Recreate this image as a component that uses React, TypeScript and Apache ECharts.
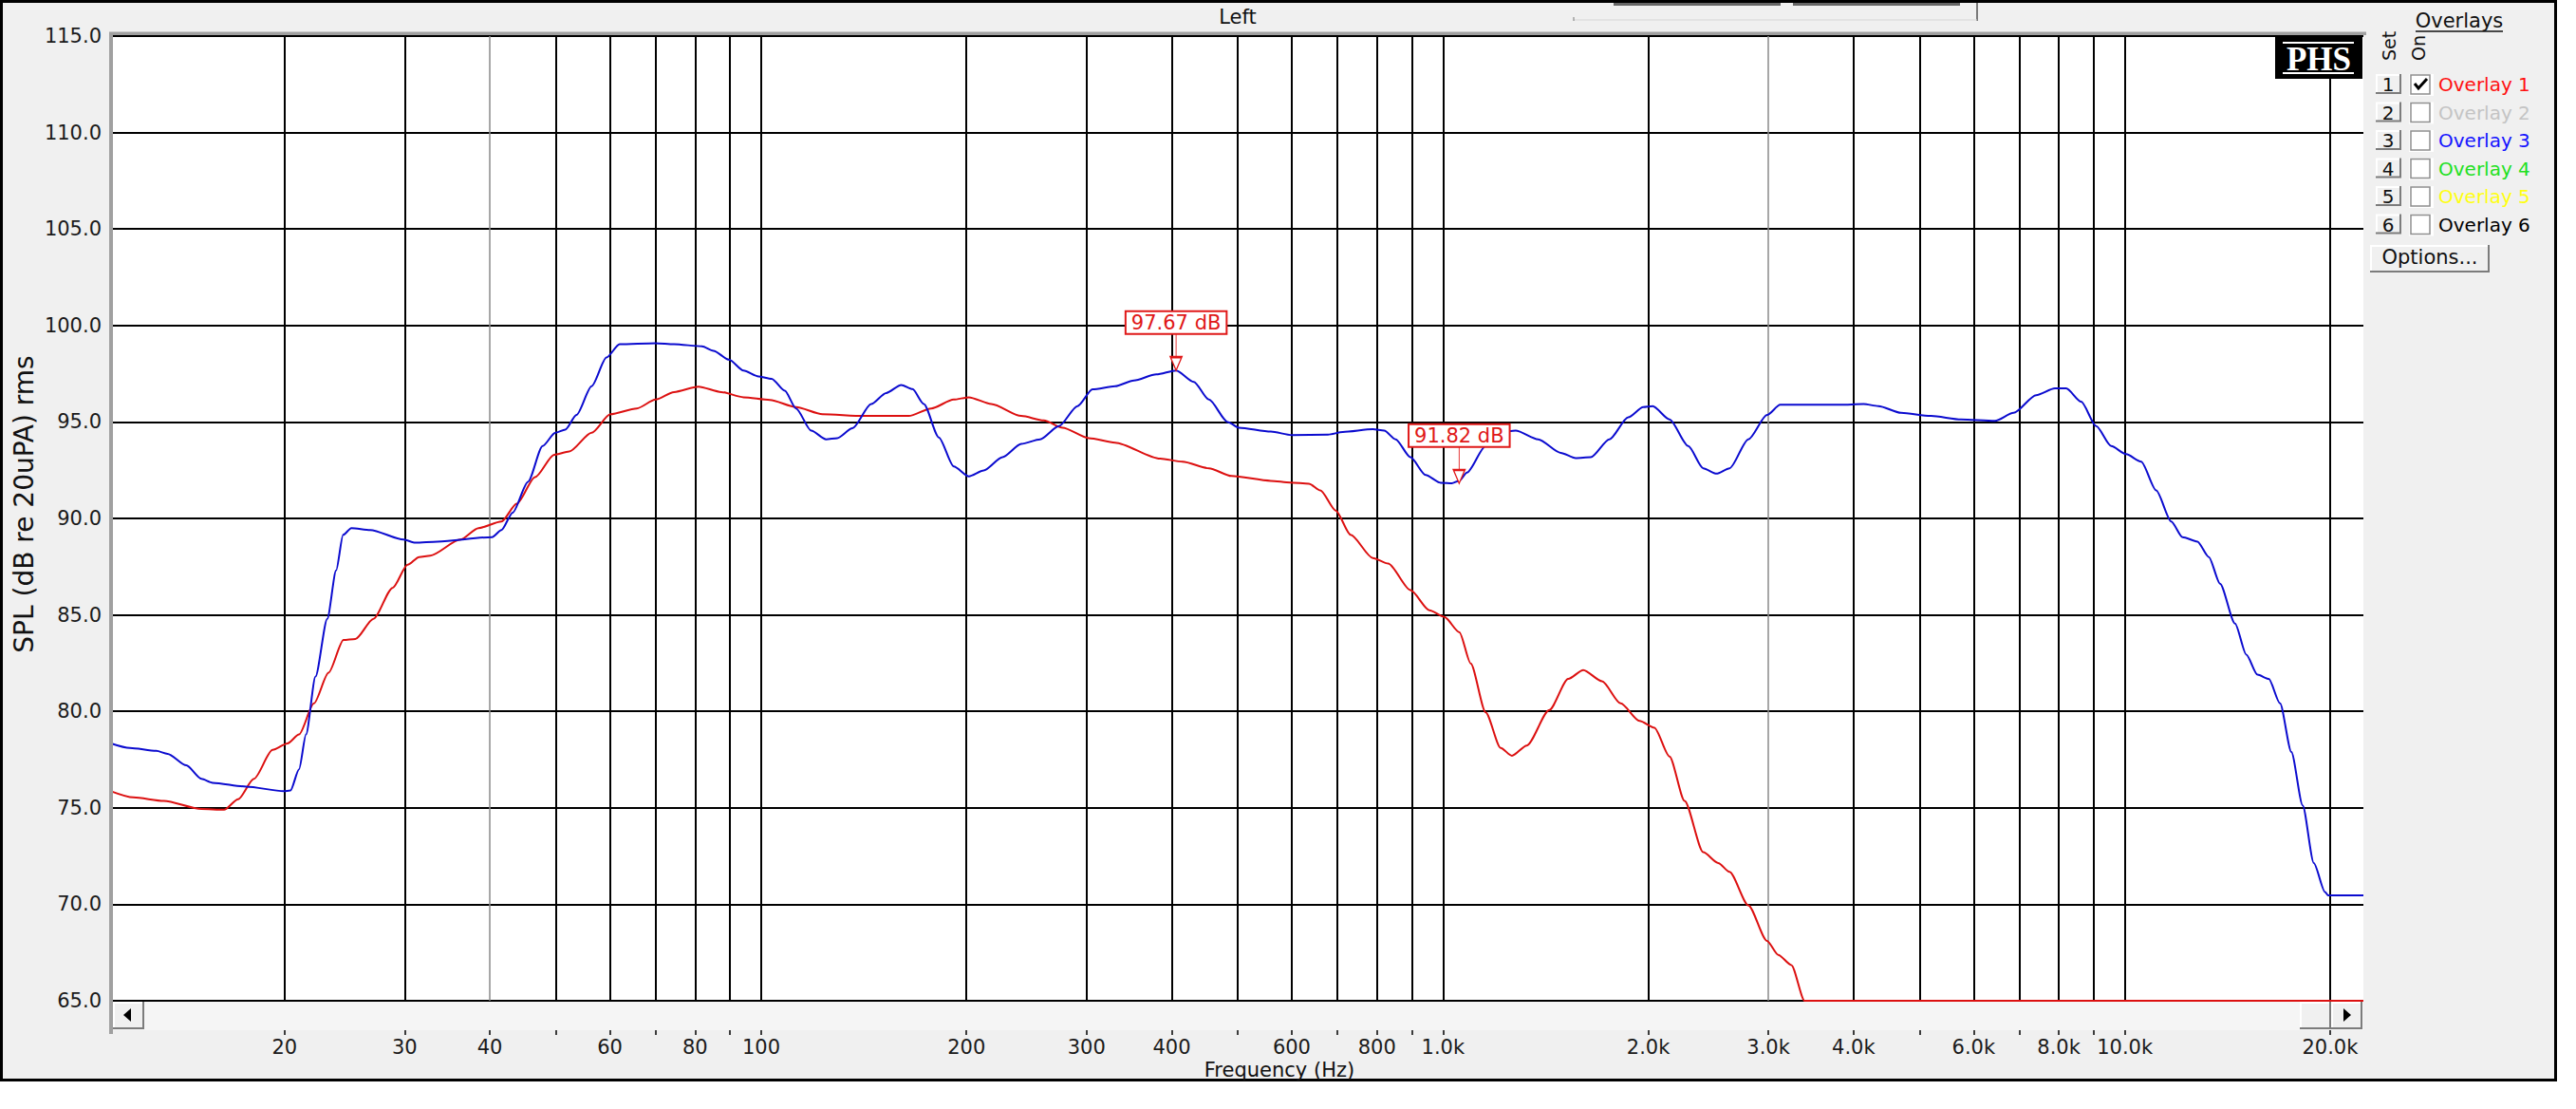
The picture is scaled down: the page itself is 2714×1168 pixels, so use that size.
import React, { useEffect, useRef } from 'react';
import * as echarts from 'echarts';

const W = 2714;
const H = 1168;
const FONT = '"DejaVu Sans", sans-serif';

// Axis ranges
const X_MIN = 11.13;
const X_MAX = 22380;
const Y_MIN = 65;
const Y_MAX = 115;
const Y_STEP = 5;

// Frequency grid / tick labels
const gridFreqs = [20, 30, 40, 50, 60, 70, 80, 90, 100, 200, 300, 400, 500, 600, 700, 800, 900, 1000, 2000, 3000, 4000, 5000, 6000, 7000, 8000, 9000, 10000, 20000];
const lightFreqs = [40, 3000];
const labelFreqs = [20, 30, 40, 60, 80, 100, 200, 300, 400, 600, 800, 1000, 2000, 3000, 4000, 6000, 8000, 10000, 20000];
const labelTexts = ['20', '30', '40', '60', '80', '100', '200', '300', '400', '600', '800', '1.0k', '2.0k', '3.0k', '4.0k', '6.0k', '8.0k', '10.0k', '20.0k'];

// Blue curve (Hz, dB)
const blueFreqs = [11.13, 11.86, 12.97, 13.47, 14.35, 15.1, 15.68, 17.57, 19.95, 20.4, 21.0, 21.5, 22.2, 23.1, 23.8, 24.37, 25.06, 26.7, 29.9, 31.1, 33.5, 40.3, 41.6, 43.2, 45.5, 47.8, 49.9, 51.6, 53.6, 56.4, 59.3, 62.0, 70.0, 74.5, 81.9, 85.1, 89.7, 94.2, 99.1, 103.6, 108.3, 112.5, 118.4, 124.5, 129.3, 136.1, 145, 152.5, 160.5, 166.7, 173.2, 182.2, 191.6, 201.6, 212, 225.9, 240.7, 256.5, 273.3, 291, 306.2, 330.4, 352, 379.8, 406, 431, 453.6, 483.3, 502, 559, 600, 678, 713, 789, 820, 852, 896, 943, 992, 1030, 1056, 1084, 1155, 1215, 1278, 1379, 1488, 1565, 1647, 1754, 1869, 1966, 2030, 2149, 2289, 2408, 2518, 2632, 2804, 2987, 3123, 3824, 4138, 4352, 4696, 5196, 5752, 6448, 6868, 7412, 7898, 8203, 8628, 9078, 9549, 10046, 10568, 11117, 11695, 12150, 12780, 13280, 13790, 14510, 15070, 15650, 16260, 16890, 17550, 18230, 18930, 19660, 19870, 22380];
const blueDb = [78.34, 78.1, 77.95, 77.8, 77.2, 76.5, 76.3, 76.1, 75.86, 75.9, 77.0, 78.8, 81.8, 84.8, 87.3, 89.15, 89.5, 89.4, 88.9, 88.74, 88.8, 89.03, 89.4, 90.3, 91.9, 93.75, 94.44, 94.6, 95.36, 96.85, 98.34, 99.03, 99.08, 99.03, 98.92, 98.69, 98.23, 97.66, 97.36, 97.24, 96.62, 95.7, 94.55, 94.1, 94.16, 94.67, 95.93, 96.5, 96.92, 96.7, 95.93, 94.2, 92.7, 92.18, 92.48, 93.17, 93.86, 94.1, 94.78, 95.82, 96.69, 96.85, 97.15, 97.47, 97.67, 97.08, 96.16, 95.0, 94.7, 94.5, 94.32, 94.34, 94.48, 94.62, 94.55, 94.1, 93.17, 92.25, 91.85, 91.82, 91.95, 92.37, 93.75, 94.48, 94.55, 94.1, 93.4, 93.13, 93.17, 94.1, 95.24, 95.77, 95.82, 95.13, 93.75, 92.6, 92.32, 92.6, 94.1, 95.36, 95.89, 95.89, 95.93, 95.82, 95.47, 95.31, 95.13, 95.06, 95.47, 96.39, 96.74, 96.74, 96.05, 94.78, 93.75, 93.33, 92.94, 91.45, 89.84, 89.03, 88.8, 88.0, 86.62, 84.55, 82.94, 81.9, 81.68, 80.41, 77.89, 75.13, 72.14, 70.64, 70.46, 70.46];

// Red curve (Hz, dB)
const redFreqs = [11.13, 12.0, 13.3, 15.1, 16.3, 17.1, 18.03, 19.2, 20.2, 21.0, 22.08, 23.2, 24.4, 25.4, 27.0, 28.8, 30.3, 31.5, 32.7, 36.2, 38.5, 41.6, 43.8, 46.6, 49.7, 52.3, 56.4, 60.1, 65.7, 70.0, 74.5, 80.9, 87.4, 94.2, 103, 112.5, 123, 141.3, 164.6, 177.6, 191.6, 201.6, 217.5, 240.7, 259.7, 276.7, 302.4, 330.4, 384.7, 415, 453.6, 489.4, 559, 597, 636, 661, 696, 732, 789, 831, 896, 955, 1004, 1057, 1098, 1155, 1215, 1262, 1327, 1432, 1526, 1606, 1711, 1822, 1942, 2042, 2149, 2261, 2408, 2533, 2632, 2804, 2987, 3102, 3243, 3391, 22380];
const redDb = [75.86, 75.54, 75.36, 74.94, 74.9, 75.45, 76.5, 78.0, 78.34, 78.8, 80.41, 82.0, 83.7, 83.75, 84.8, 86.4, 87.6, 88.0, 88.07, 88.9, 89.5, 89.84, 90.76, 92.14, 93.3, 93.47, 94.44, 95.4, 95.7, 96.16, 96.55, 96.83, 96.55, 96.28, 96.14, 95.77, 95.4, 95.31, 95.31, 95.7, 96.16, 96.28, 95.93, 95.31, 95.08, 94.7, 94.16, 93.93, 93.1, 92.94, 92.6, 92.2, 91.95, 91.86, 91.8, 91.45, 90.41, 89.15, 87.95, 87.66, 86.28, 85.24, 84.9, 84.1, 82.48, 79.95, 78.1, 77.7, 78.23, 80.07, 81.68, 82.14, 81.56, 80.41, 79.5, 79.15, 77.66, 75.36, 72.7, 72.14, 71.68, 69.95, 68.1, 67.38, 66.85, 65.0, 65.0];

// Cursor markers
const markerFreqs = [406, 1056];
const markerDb = [97.67, 91.82];

// Overlay panel
const overlayNames = ['Overlay 1', 'Overlay 2', 'Overlay 3', 'Overlay 4', 'Overlay 5', 'Overlay 6'];
const overlayColors = ['#ff1010', '#c4c4c4', '#1515ff', '#22e022', '#ffff10', '#000000'];
const overlayChecked = [true, false, false, false, false, false];

const BLUE = '#0b0bcf';
const RED = '#dc1010';
const MARK_RED = '#e01818';

function btn(x: number, y: number, w: number, h: number) {
  return [
    { type: 'rect', z: 100, shape: { x, y, width: w, height: h }, style: { fill: '#f0f0f0' } },
    { type: 'polyline', z: 101, shape: { points: [[x + 1, y + h - 1], [x + 1, y + 1], [x + w - 1, y + 1]] }, style: { stroke: '#ffffff', lineWidth: 2, fill: null } },
    { type: 'polyline', z: 101, shape: { points: [[x, y + h - 1], [x + w - 1, y + h - 1], [x + w - 1, y]] }, style: { stroke: '#7c7c7c', lineWidth: 2, fill: null } },
  ];
}

function txt(x: number, y: number, text: string, size: number, color: string, align = 'center', extra: any = {}) {
  return {
    type: 'text', z: 102, x, y, ...extra,
    style: {
      text, fill: color, fontSize: size, fontFamily: FONT,
      align, verticalAlign: 'middle', textAlign: align, textVerticalAlign: 'middle',
    },
  };
}

function buildGraphics() {
  const g: any[] = [];
  // top strip widget
  g.push({ type: 'rect', z: 100, shape: { x: 1700, y: 3, width: 176, height: 3 }, style: { fill: '#666' } });
  g.push({ type: 'rect', z: 100, shape: { x: 1889, y: 3, width: 176, height: 3 }, style: { fill: '#666' } });
  g.push({ type: 'line', z: 100, shape: { x1: 2083, y1: 3, x2: 2083, y2: 22 }, style: { stroke: '#555', lineWidth: 1.5 } });
  g.push({ type: 'line', z: 100, shape: { x1: 1658, y1: 21, x2: 2083, y2: 21 }, style: { stroke: '#d6d6d6', lineWidth: 1 } });
  g.push({ type: 'line', z: 100, shape: { x1: 1658, y1: 18, x2: 1658, y2: 22 }, style: { stroke: '#777', lineWidth: 1 } });
  g.push(txt(1304, 18, 'Left', 21, '#111'));

  // plot frame accents
  g.push({ type: 'rect', z: 100, shape: { x: 115, y: 33.5, width: 2378, height: 3.5 }, style: { fill: '#a0a0a0' } });
  g.push({ type: 'rect', z: 100, shape: { x: 115, y: 34, width: 4, height: 1055 }, style: { fill: '#a0a0a0' } });

  // scrollbar
  g.push({ type: 'rect', z: 99, shape: { x: 119, y: 1055, width: 2371, height: 30 }, style: { fill: '#f5f5f5' } });
  g.push(...btn(119, 1055, 33, 29));
  g.push({ type: 'polygon', z: 102, shape: { points: [[130, 1069], [138, 1062], [138, 1076]] }, style: { fill: '#000' } });
  g.push(...btn(2423, 1055, 33, 29));
  g.push(...btn(2456, 1055, 33, 29));
  g.push({ type: 'polygon', z: 102, shape: { points: [[2469, 1062], [2469, 1076], [2477, 1069]] }, style: { fill: '#000' } });

  // axis titles
  g.push(txt(1348, 1127, 'Frequency (Hz)', 21, '#111'));
  g.push(txt(25, 531, 'SPL (dB re 20uPA) rms', 28, '#111', 'center', { rotation: Math.PI / 2 }));

  // PHS logo
  g.push({ type: 'rect', z: 100, shape: { x: 2397, y: 39, width: 92, height: 44 }, style: { fill: '#000' } });
  g.push({ type: 'line', z: 101, shape: { x1: 2405, y1: 45, x2: 2480, y2: 45 }, style: { stroke: '#fff', lineWidth: 2 } });
  g.push({ type: 'line', z: 101, shape: { x1: 2405, y1: 77, x2: 2480, y2: 77 }, style: { stroke: '#fff', lineWidth: 2 } });
  g.push({
    type: 'text', z: 102, x: 2443, y: 62,
    style: { text: 'PHS', fill: '#fff', fontSize: 35, fontWeight: 'bold', fontFamily: '"Liberation Serif", serif', align: 'center', verticalAlign: 'middle', textAlign: 'center', textVerticalAlign: 'middle' },
  });

  // overlays panel
  g.push(txt(2591, 22, 'Overlays', 21, '#111'));
  g.push({ type: 'line', z: 101, shape: { x1: 2545, y1: 33, x2: 2637, y2: 33 }, style: { stroke: '#111', lineWidth: 1.5 } });
  g.push(txt(2517, 64, 'Set', 19, '#111', 'left', { rotation: Math.PI / 2 }));
  g.push(txt(2548, 64, 'On', 19, '#111', 'left', { rotation: Math.PI / 2 }));
  overlayNames.forEach((name, i) => {
    const y = 89 + 29.5 * i;
    g.push(...btn(2503, y - 11, 27, 21));
    g.push(txt(2516, y, String(i + 1), 20, '#111'));
    g.push({ type: 'rect', z: 100, shape: { x: 2538, y: y - 11, width: 26, height: 23 }, style: { fill: '#ffffff' } });
    g.push({ type: 'rect', z: 101, shape: { x: 2540, y: y - 10, width: 20, height: 20 }, style: { fill: '#ffffff', stroke: '#8e8e8e', lineWidth: 1.5 } });
    if (overlayChecked[i]) {
      g.push({ type: 'polyline', z: 102, shape: { points: [[2544, y - 1], [2548, y + 4], [2557, y - 6]] }, style: { stroke: '#000', lineWidth: 3, fill: null } });
    }
    g.push(txt(2569, y, name, 20, overlayColors[i], 'left'));
  });
  g.push(...btn(2497, 258, 126, 29));
  g.push(txt(2560, 271, 'Options...', 21, '#111'));
  return g;
}

function buildOption() {
  const log = (f: number) => Math.log10(f);
  const blueData = blueFreqs.map((f, i) => [f, blueDb[i]]);
  const redData = redFreqs.map((f, i) => [f, redDb[i]]);
  return {
    animation: false,
    backgroundColor: 'transparent',
    grid: {
      left: 117, top: 38, width: 2373, height: 1016,
      show: true, backgroundColor: '#ffffff', borderWidth: 0, containLabel: false,
    },
    xAxis: [
      {
        type: 'log', logBase: 10, min: X_MIN, max: X_MAX, gridIndex: 0,
        axisLine: { show: false }, axisTick: { show: false }, axisLabel: { show: false }, splitLine: { show: false },
      },
      {
        type: 'value', min: log(X_MIN), max: log(X_MAX), gridIndex: 0, position: 'bottom', offset: 31,
        axisLine: { show: false },
        axisTick: { show: true, length: 5, customValues: gridFreqs.map(log), lineStyle: { color: '#000', width: 1.5 } },
        axisLabel: {
          show: true, customValues: labelFreqs.map(log), margin: 7,
          fontSize: 21, fontFamily: FONT, color: '#1a1a1a',
          formatter: (v: number) => {
            const i = labelFreqs.findIndex((f) => Math.abs(Math.log10(f) - v) < 1e-6);
            return i >= 0 ? labelTexts[i] : '';
          },
        },
        splitLine: { show: false },
      },
    ],
    yAxis: {
      type: 'value', min: Y_MIN, max: Y_MAX, interval: Y_STEP,
      axisLine: { show: false }, axisTick: { show: false },
      axisLabel: { formatter: (v: number) => v.toFixed(1), fontSize: 21, fontFamily: FONT, color: '#1a1a1a', margin: 10 },
      splitLine: { show: true, lineStyle: { color: '#000', width: 2 } },
    },
    series: [
      {
        type: 'line', name: 'Overlay 1', xAxisIndex: 0, yAxisIndex: 0, data: redData,
        showSymbol: false, symbol: 'none', smooth: 0.25, smoothMonotone: 'x', z: 3,
        lineStyle: { color: RED, width: 2 }, silent: true,
        markLine: {
          silent: true, symbol: ['none', 'none'], z: 1, animation: false,
          label: { show: false }, emphasis: { disabled: true },
          lineStyle: { color: '#000', width: 2, type: 'solid' },
          data: gridFreqs.map((f) => (lightFreqs.includes(f)
            ? { xAxis: f, lineStyle: { color: '#8a8a8a', width: 1.5, type: 'solid' } }
            : { xAxis: f })),
        },
      },
      {
        type: 'line', name: 'Overlay 3', xAxisIndex: 0, yAxisIndex: 0, data: blueData,
        showSymbol: false, symbol: 'none', smooth: 0.25, smoothMonotone: 'x', z: 4,
        lineStyle: { color: BLUE, width: 2 }, silent: true,
        markPoint: {
          silent: true, animation: false,
          symbol: 'path://M6 0L6 24M0 24L12 24L6 38Z',
          symbolSize: [12, 38], symbolOffset: [0, -19], symbolKeepAspect: false,
          itemStyle: { color: '#ffffff', borderColor: MARK_RED, borderWidth: 1.5 },
          label: {
            show: true, position: 'top', distance: 0,
            formatter: (p: any) => p.name,
            color: MARK_RED, fontSize: 21, fontFamily: FONT, lineHeight: 20,
            backgroundColor: '#ffffff', borderColor: MARK_RED, borderWidth: 2, padding: [1, 5],
          },
          data: markerFreqs.map((f, i) => ({ name: `${markerDb[i].toFixed(2)} dB`, coord: [f, markerDb[i]] })),
        },
      },
    ],
    graphic: { elements: buildGraphics() },
  };
}

export default function App() {
  const ref = useRef<HTMLDivElement>(null);
  useEffect(() => {
    if (!ref.current) return;
    const chart = echarts.init(ref.current, null, { renderer: 'svg', width: W, height: H });
    chart.setOption(buildOption() as any);
    return () => chart.dispose();
  }, []);
  return (
    <div style={{ position: 'absolute', left: 0, top: 0, width: W, height: H, background: '#ffffff', overflow: 'hidden' }}>
      <div style={{ position: 'absolute', left: 0, top: 0, width: 2694, height: 1139, boxSizing: 'border-box', border: '3px solid #000', background: '#f0f0f0' }} />
      <div ref={ref} style={{ position: 'absolute', left: 0, top: 0, width: W, height: H }} />
    </div>
  );
}
